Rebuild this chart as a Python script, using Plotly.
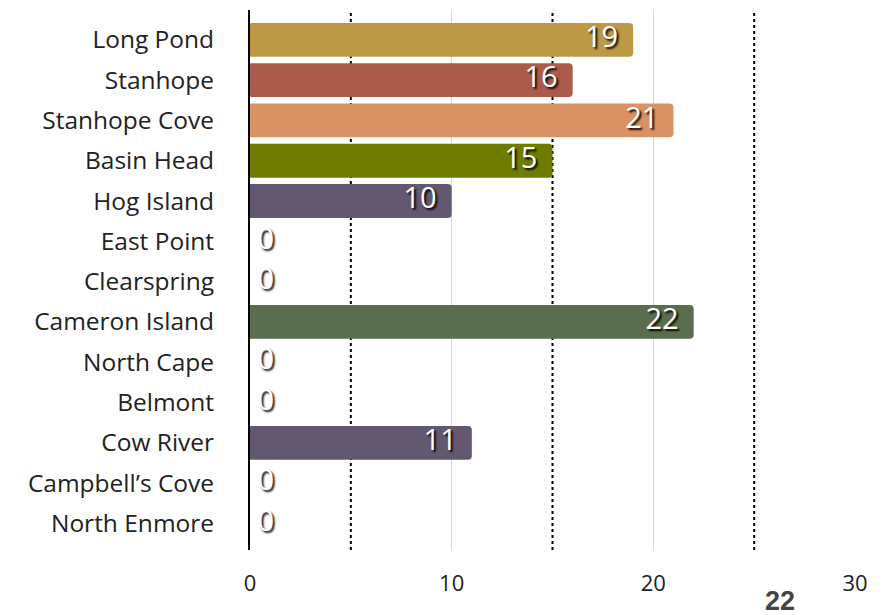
import plotly.graph_objects as go

categories = ["Long Pond", "Stanhope", "Stanhope Cove", "Basin Head", "Hog Island",
              "East Point", "Clearspring", "Cameron Island", "North Cape", "Belmont",
              "Cow River", "Campbell\u2019s Cove", "North Enmore"]
values = [19, 16, 21, 15, 10, 0, 0, 22, 0, 0, 11, 0, 0]
colors = ["#BC9A45", "#AC5B4A", "#D99363", "#6E7C00", "#625870", "#625870", "#625870",
          "#5A6E4F", "#625870", "#625870", "#625870", "#625870", "#625870"]
x_ticks = [0, 10, 20, 30]
dotted_at = [5, 15, 25]
max_label = "22"

FONT = "Open Sans"
NB = "\u00a0"

fig = go.Figure()
fig.add_trace(go.Bar(
    y=categories, x=values, orientation="h",
    marker=dict(color=colors, cornerradius=4, line=dict(width=0)),
    width=0.84, hoverinfo="x+y",
))
# value labels
fig.add_trace(go.Scatter(
    y=categories, x=values, mode="text",
    text=[(str(v) + NB * 2) if v > 0 else (NB + str(v)) for v in values],
    textposition=["middle left" if v > 0 else "middle right" for v in values],
    textfont=dict(family=FONT, size=29, color="white",
                  shadow="2px 2px 2px rgba(0,0,0,0.95)"),
    cliponaxis=False, hoverinfo="skip",
))

for d in dotted_at:
    fig.add_shape(type="line", x0=d, x1=d, y0=0, y1=1, xref="x", yref="paper",
                  line=dict(color="black", width=2, dash="dot"), layer="below")

fig.add_annotation(x=26.3, y=-0.094, xref="x", yref="paper", text="<b>%s</b>" % max_label,
                   showarrow=False, font=dict(family="Liberation Sans", size=27, color="#444"),
                   yanchor="middle")

fig.update_layout(
    width=885, height=615,
    margin=dict(l=250, r=30, t=10, b=65),
    plot_bgcolor="white", paper_bgcolor="white",
    showlegend=False, bargap=0.16,
    font=dict(family=FONT, color="#222"),
)
fig.update_xaxes(range=[0, 30], tickvals=x_ticks, showgrid=True, gridcolor="#d6d6d6",
                 gridwidth=1, zeroline=False, showline=False, ticks="",
                 tickfont=dict(size=22, color="#222"), ticklabelstandoff=18)
fig.update_yaxes(categoryorder="array", categoryarray=categories,
                 range=[12.66, -0.74], showline=True, linecolor="black", linewidth=2,
                 showgrid=False, ticks="", tickfont=dict(size=24.5, color="#222"),
                 ticklabelstandoff=29)

fig.write_html("out.html")
